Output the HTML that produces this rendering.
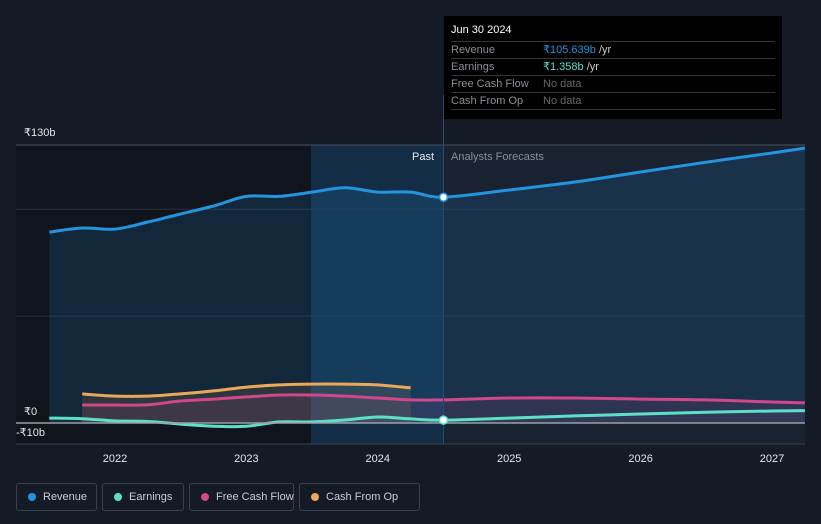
<!DOCTYPE html>
<html><head><meta charset="utf-8"><style>
body{margin:0;background:#151b26;width:821px;height:524px;overflow:hidden;font-family:"Liberation Sans",sans-serif}
.leg{position:absolute;top:483px;height:28px;border:1px solid #3a414d;border-radius:3px;color:#c9ccd1;font-size:11px;line-height:26px;box-sizing:border-box;padding-left:26px;white-space:nowrap}
.leg i{position:absolute;left:11px;top:9px;width:8px;height:8px;border-radius:50%}
#tip{position:absolute;left:444px;top:16px;width:338px;height:103px;background:#000;font-size:11px}
#tip .r{position:absolute;left:7px;width:324px;border-top:1px solid #333;height:17px;line-height:17px;color:#8a8f98}
#tip .r span{position:absolute;left:92px}
</style></head><body>
<svg id="chart" width="821" height="524" style="position:absolute;left:0;top:0">
<rect x="16" y="145" width="295" height="299" fill="#10151d"/>
<rect x="311" y="145" width="133" height="299" fill="#14304c" opacity="0.85"/>
<rect x="444" y="145" width="361" height="299" fill="#182230"/>
<g id="grid"></g>
<g id="marks"></g>
<text x="412" y="160" fill="#e6e6e6" font-size="11">Past</text>
<text x="451" y="160" fill="#8a8f98" font-size="11">Analysts Forecasts</text>
<text x="24" y="136" fill="#e6e6e6" font-size="11">₹130b</text>
<text x="24" y="415" fill="#e6e6e6" font-size="11">₹0</text>
<text x="16" y="436" fill="#e6e6e6" font-size="11">-₹10b</text>
</svg>
<div id="tip">
<div style="position:absolute;left:7px;top:8px;color:#fff;font-size:11px">Jun 30 2024</div>
<div class="r" style="top:25px">Revenue<span style="color:#2394df">₹105.639b <b style="font-weight:normal;color:#ccc">/yr</b></span></div>
<div class="r" style="top:42px">Earnings<span style="color:#5ee0c8">₹1.358b <b style="font-weight:normal;color:#ccc">/yr</b></span></div>
<div class="r" style="top:59px">Free Cash Flow<span style="color:#666">No data</span></div>
<div class="r" style="top:76px">Cash From Op<span style="color:#666">No data</span></div>
<div class="r" style="top:93px;height:0"></div>
</div>
<div class="leg" style="left:16px;width:81px"><i style="background:#2394df"></i>Revenue</div>
<div class="leg" style="left:102px;width:82px"><i style="background:#5ee0c8"></i>Earnings</div>
<div class="leg" style="left:189px;width:105px"><i style="background:#d0478a"></i>Free Cash Flow</div>
<div class="leg" style="left:299px;width:121px"><i style="background:#e9a85a"></i>Cash From Op</div>
<script>
const revX=[2021.5,2021.75,2022,2022.25,2022.5,2022.75,2023,2023.25,2023.5,2023.75,2024,2024.25,2024.5,2025,2025.5,2026,2026.5,2027,2027.25];
const revenue=[89.3,91.2,90.7,94,97.8,101.5,106,106,108,110,108,108,105.6,109,112.7,117.4,122,126.3,128.6];
const earnX=revX;
const earnings=[2.3,2,1,0.7,-0.5,-1.5,-1.5,0.5,0.5,1.4,2.8,1.9,1.358,2.3,3.3,4.2,5,5.6,5.8];
const fcfX=[2021.75,2022,2022.25,2022.5,2022.75,2023,2023.25,2023.5,2023.75,2024,2024.25,2024.5,2025,2025.5,2026,2026.5,2027,2027.25];
const fcf=[8.4,8.4,8.5,10.3,11.2,12.2,13.1,13.1,12.6,11.7,10.8,10.8,11.7,11.7,11.2,10.8,9.8,9.4];
const cfoX=[2021.75,2022,2022.25,2022.5,2022.75,2023,2023.25,2023.5,2023.75,2024,2024.25];
const cfo=[13.6,12.6,12.6,13.6,15,16.8,17.8,18.2,18.2,17.8,16.4];
const xTicks=[2022,2023,2024,2025,2026,2027];
const yGrid=[130,100,50];
const X=v=>115+(v-2022)*131.4, Y=v=>423-v*2.138;
const NS='http://www.w3.org/2000/svg';
const g=document.getElementById('marks'),gr=document.getElementById('grid');
function mk(t,a,p){const e=document.createElementNS(NS,t);for(const k in a)e.setAttribute(k,a[k]);(p||g).appendChild(e);return e;}
yGrid.forEach(v=>{const l=mk('line',{x1:16,x2:805,y1:Y(v),y2:Y(v),stroke:v==130?'#4a525e':'#2a3340','stroke-width':1},gr);

});
function path(xs,ys){const p=xs.map((x,i)=>[X(x),Y(ys[i])]);let d='M'+p[0][0].toFixed(1)+','+p[0][1].toFixed(1);
 for(let i=0;i<p.length-1;i++){const a=p[Math.max(0,i-1)],b=p[i],c=p[i+1],e=p[Math.min(p.length-1,i+2)];
  const c1=[b[0]+(c[0]-a[0])/6,b[1]+(c[1]-a[1])/6],c2=[c[0]-(e[0]-b[0])/6,c[1]-(e[1]-b[1])/6];
  d+='C'+c1.map(v=>v.toFixed(1))+' '+c2.map(v=>v.toFixed(1))+' '+c[0].toFixed(1)+','+c[1].toFixed(1);}
 return d;}
function series(xs,ys,col,fillOp,name,w){
 const d=path(xs,ys);
 const f=mk('path',{d:d+'L'+X(xs[xs.length-1])+','+Y(0)+'L'+X(xs[0])+','+Y(0)+'Z',fill:col,'fill-opacity':fillOp});
 
 
 const l=mk('path',{d:d,fill:'none',stroke:col,'stroke-width':w||3,'stroke-linejoin':'round'});
 
 
}
series(revX,revenue,'#2394df',0.15,'revenue');
series(cfoX,cfo,'#e9a85a',0.12,'cash-from-op');
series(fcfX,fcf,'#d0478a',0.12,'free-cash-flow');
series(earnX,earnings,'#5ee0c8',0.04,'earnings');
const z=mk('line',{x1:16,x2:805,y1:Y(0),y2:Y(0),stroke:'#9aa0a8','stroke-width':1.5});


const b=mk('line',{x1:16,x2:805,y1:444,y2:444,stroke:'#3a414d','stroke-width':1});


const vl=mk('line',{x1:X(2024.5),x2:X(2024.5),y1:95,y2:444,stroke:'#2b4a66','stroke-width':1});


xTicks.forEach(t=>{const e=mk('text',{x:X(t),y:462,fill:'#e6e6e6','font-size':11,'text-anchor':'middle'});e.textContent=t;

});
const c1=mk('circle',{cx:X(2024.5),cy:Y(105.6),r:4,fill:'#fff',stroke:'#2394df','stroke-width':1.5});


const c2=mk('circle',{cx:X(2024.5),cy:Y(1.358),r:4,fill:'#fff',stroke:'#5ee0c8','stroke-width':1.5});


</script>
</body></html>
